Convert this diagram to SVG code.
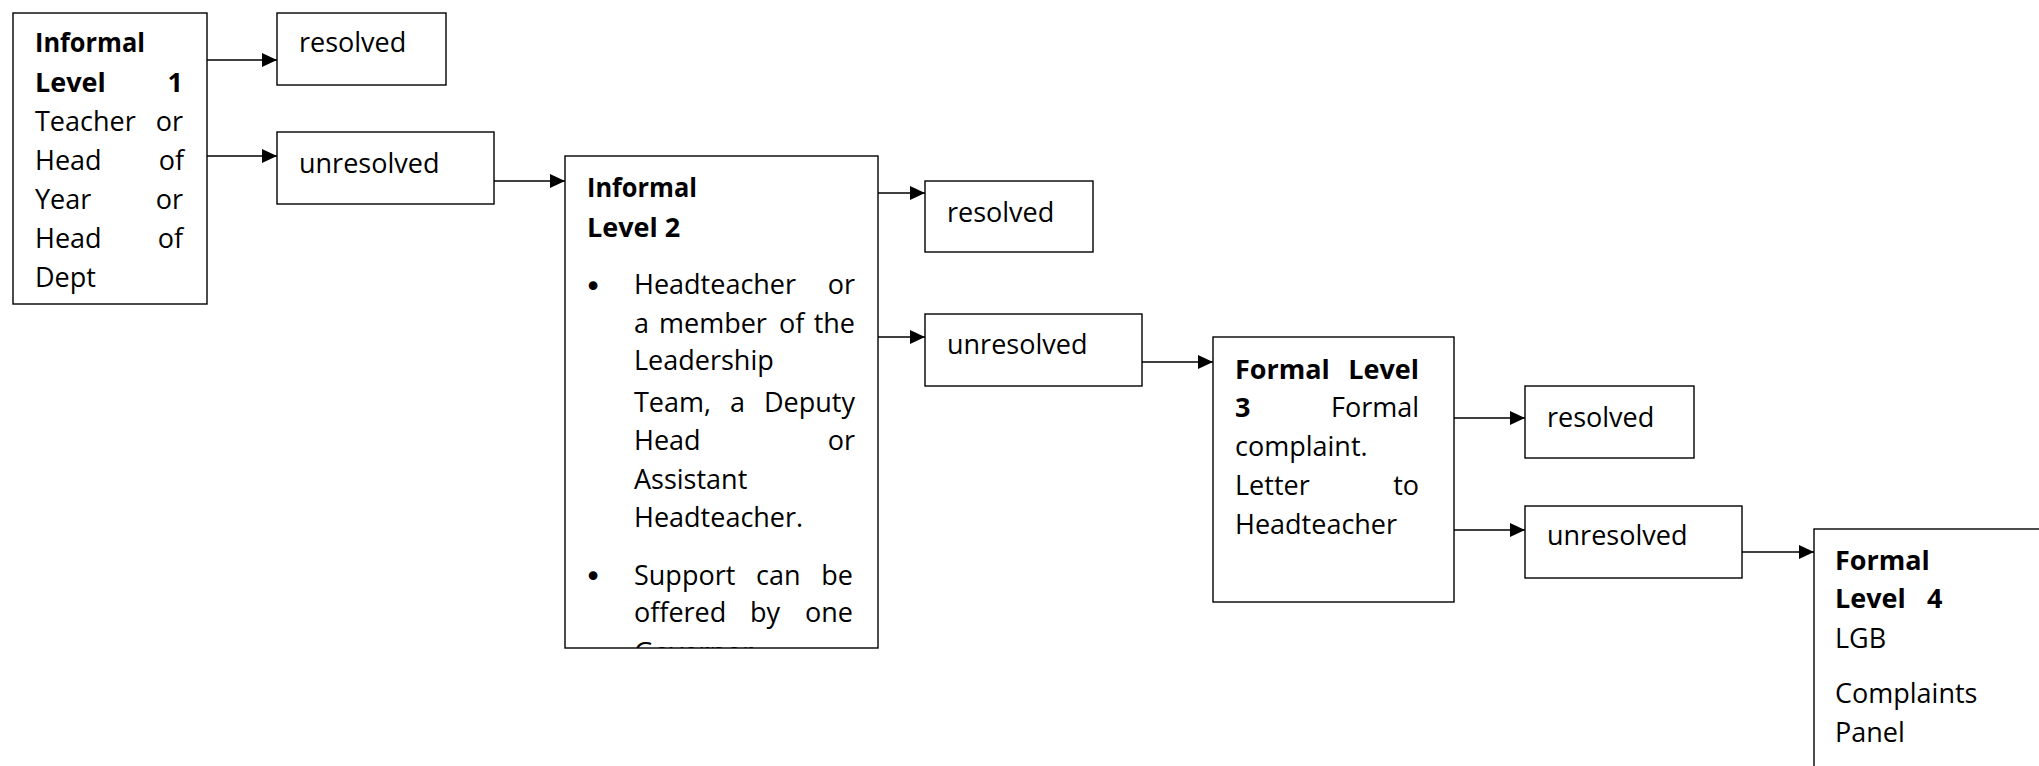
<svg xmlns="http://www.w3.org/2000/svg" width="2039" height="766" viewBox="0 0 2039 766">
<style>
.box{fill:#fff;stroke:#000;stroke-width:1.4}
.t{font-family:"Open Sans","Noto Sans","Liberation Sans",sans-serif;font-size:27px;fill:#000}
.b{font-weight:bold}
.e{text-anchor:end}
.bul{font-family:"DejaVu Sans",sans-serif;font-size:30px;fill:#000;text-anchor:middle}
.c{fill:none;stroke:#000;stroke-width:1.4}
</style>
<defs>
<marker id="ah" markerUnits="userSpaceOnUse" markerWidth="16" markerHeight="15" refX="15" refY="7" orient="auto">
<path d="M0,0 L15,7 L0,14 Z" fill="#000"/>
</marker>
<clipPath id="clip2"><rect x="566" y="157" width="311" height="491"/></clipPath>
</defs>
<rect width="2039" height="766" fill="#fff"/>

<g id="connectors">
<line class="c" x1="207" y1="60" x2="277" y2="60" marker-end="url(#ah)"/>
<line class="c" x1="207" y1="156" x2="277" y2="156" marker-end="url(#ah)"/>
<line class="c" x1="494" y1="181" x2="565" y2="181" marker-end="url(#ah)"/>
<line class="c" x1="878" y1="193" x2="925" y2="193" marker-end="url(#ah)"/>
<line class="c" x1="878" y1="337" x2="925" y2="337" marker-end="url(#ah)"/>
<line class="c" x1="1142" y1="362" x2="1213" y2="362" marker-end="url(#ah)"/>
<line class="c" x1="1454" y1="418" x2="1525" y2="418" marker-end="url(#ah)"/>
<line class="c" x1="1454" y1="530" x2="1525" y2="530" marker-end="url(#ah)"/>
<line class="c" x1="1742" y1="552" x2="1814" y2="552" marker-end="url(#ah)"/>
</g>

<g id="level1">
<rect class="box" x="13" y="13" width="194" height="291"/>
<text class="t b" x="35" y="52" textLength="110" lengthAdjust="spacingAndGlyphs">Informal</text>
<text class="t b" x="35" y="92">Level</text><text class="t b e" x="183" y="92">1</text>
<text class="t" x="35" y="131">Teacher</text><text class="t e" x="183" y="131">or</text>
<text class="t" x="35" y="170">Head</text><text class="t e" x="184" y="170">of</text>
<text class="t" x="35" y="209">Year</text><text class="t e" x="183" y="209">or</text>
<text class="t" x="35" y="248">Head</text><text class="t e" x="183" y="248">of</text>
<text class="t" x="35" y="287">Dept</text>
</g>

<g id="resolved1">
<rect class="box" x="277" y="13" width="169" height="72"/>
<text class="t" x="299" y="52">resolved</text>
</g>
<g id="unresolved1">
<rect class="box" x="277" y="132" width="217" height="72"/>
<text class="t" x="299" y="173">unresolved</text>
</g>

<g id="level2">
<rect class="box" x="565" y="156" width="313" height="492"/>
<g clip-path="url(#clip2)">
<text class="t b" x="587" y="197" textLength="110" lengthAdjust="spacingAndGlyphs">Informal</text>
<text class="t b" x="587" y="237">Level 2</text>
<text class="bul" x="593" y="297">•</text>
<text class="t" x="634" y="294">Headteacher</text><text class="t e" x="855" y="294">or</text>
<text class="t" x="634" y="333">a</text><text class="t" x="659" y="333">member</text><text class="t" x="779" y="333">of</text><text class="t e" x="855" y="333">the</text>
<text class="t" x="634" y="370">Leadership</text>
<text class="t" x="634" y="412">Team,</text><text class="t" x="730" y="412">a</text><text class="t e" x="855" y="412">Deputy</text>
<text class="t" x="634" y="450">Head</text><text class="t e" x="855" y="450">or</text>
<text class="t" x="634" y="489">Assistant</text>
<text class="t" x="634" y="527">Headteacher.</text>
<text class="bul" x="593" y="587">•</text>
<text class="t" x="634" y="585">Support</text><text class="t" x="756" y="585">can</text><text class="t e" x="853" y="585">be</text>
<text class="t" x="634" y="622">offered</text><text class="t" x="750" y="622">by</text><text class="t e" x="853" y="622">one</text>
<text class="t" x="634" y="662">Governor</text>
</g>
</g>

<g id="resolved2">
<rect class="box" x="925" y="181" width="168" height="71"/>
<text class="t" x="947" y="222">resolved</text>
</g>
<g id="unresolved2">
<rect class="box" x="925" y="314" width="217" height="72"/>
<text class="t" x="947" y="354">unresolved</text>
</g>

<g id="level3">
<rect class="box" x="1213" y="337" width="241" height="265"/>
<text class="t b" x="1235" y="379">Formal</text><text class="t b e" x="1419" y="379">Level</text>
<text class="t b" x="1235" y="417">3</text><text class="t e" x="1419" y="417">Formal</text>
<text class="t" x="1235" y="456">complaint.</text>
<text class="t" x="1235" y="495">Letter</text><text class="t e" x="1419" y="495">to</text>
<text class="t" x="1235" y="534">Headteacher</text>
</g>

<g id="resolved3">
<rect class="box" x="1525" y="386" width="169" height="72"/>
<text class="t" x="1547" y="427">resolved</text>
</g>
<g id="unresolved3">
<rect class="box" x="1525" y="506" width="217" height="72"/>
<text class="t" x="1547" y="545">unresolved</text>
</g>

<g id="level4">
<rect class="box" x="1814" y="529" width="260" height="300"/>
<text class="t b" x="1835" y="570">Formal</text>
<text class="t b" x="1835" y="608">Level</text><text class="t b" x="1927" y="608">4</text>
<text class="t" x="1835" y="648">LGB</text>
<text class="t" x="1835" y="703">Complaints</text>
<text class="t" x="1835" y="742">Panel</text>
</g>
</svg>
